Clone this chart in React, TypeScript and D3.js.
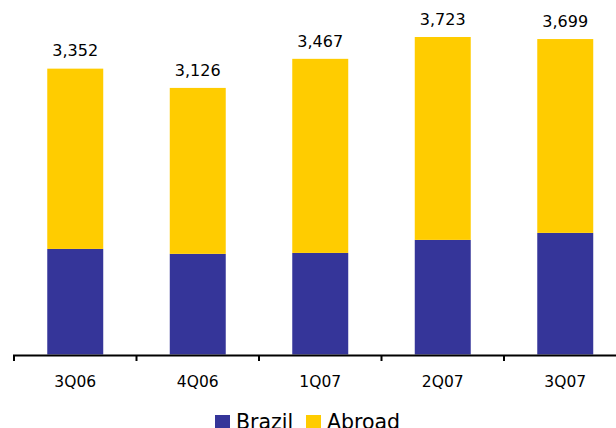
import React from "react";
import * as d3 from "d3";

const categories = ["3Q06", "4Q06", "1Q07", "2Q07", "3Q07"];
const brazil = [1238, 1180, 1191, 1344, 1426];
const totals = [3352, 3126, 3467, 3723, 3699];
const abroad = totals.map((t, i) => t - brazil[i]);
const seriesNames = ["Brazil", "Abroad"];
const colors = ["#353599", "#FFCC00"];

export default function App() {
  const W = 616, H = 428;
  const base = 354.5;
  const xOuter = d3.scaleBand<string>().domain(categories).range([14, 626.5]).padding(0);
  const x = d3.scaleBand<string>().domain(categories).range([14, 626.5]).paddingInner(0.543).paddingOuter(0.2715);
  const y = d3.scaleLinear().domain([0, 3723]).range([base, 37]);
  const fmt = d3.format(",");
  const rows = categories.map((c, i) => ({ cat: c, Brazil: brazil[i], Abroad: abroad[i] }));
  const stacked = d3.stack<any>().keys(seriesNames)(rows);
  const tickXs = [...categories.map((c) => xOuter(c)!), 626.5];
  const font = "Verdana, 'DejaVu Sans', sans-serif";
  return (
    <svg width={W} height={H} style={{ position: "fixed", left: 0, top: 0, background: "#fff" }}>
      {stacked.map((s, si) =>
        s.map((d, i) => (
          <rect key={si + "-" + i} x={x(categories[i])} width={x.bandwidth()} y={y(d[1])} height={y(d[0]) - y(d[1])} fill={colors[si]} />
        ))
      )}
      {categories.map((c, i) => (
        <text key={"v" + c} x={x(c)! + x.bandwidth() / 2} y={y(totals[i]) - 12.3} textAnchor="middle" fontFamily={font} fontSize={16} fill="#000">
          {fmt(totals[i])}
        </text>
      ))}
      <line x1={13} x2={616} y1={355.5} y2={355.5} stroke="#000" strokeWidth={2} />
      {tickXs.map((t, i) => (
        <line key={"t" + i} x1={t} x2={t} y1={355} y2={361} stroke="#000" strokeWidth={2} />
      ))}
      {categories.map((c) => (
        <text key={"c" + c} x={xOuter(c)! + xOuter.bandwidth() / 2} y={387} textAnchor="middle" fontFamily={font} fontSize={15.5} fill="#000">
          {c}
        </text>
      ))}
      <rect x={215} y={415} width={15} height={15} fill={colors[0]} />
      <text x={236} y={428.5} fontFamily={font} fontSize={20.5} fill="#000">{seriesNames[0]}</text>
      <rect x={306} y={415} width={15} height={15} fill={colors[1]} />
      <text x={327} y={428.5} fontFamily={font} fontSize={20.5} fill="#000">{seriesNames[1]}</text>
    </svg>
  );
}
